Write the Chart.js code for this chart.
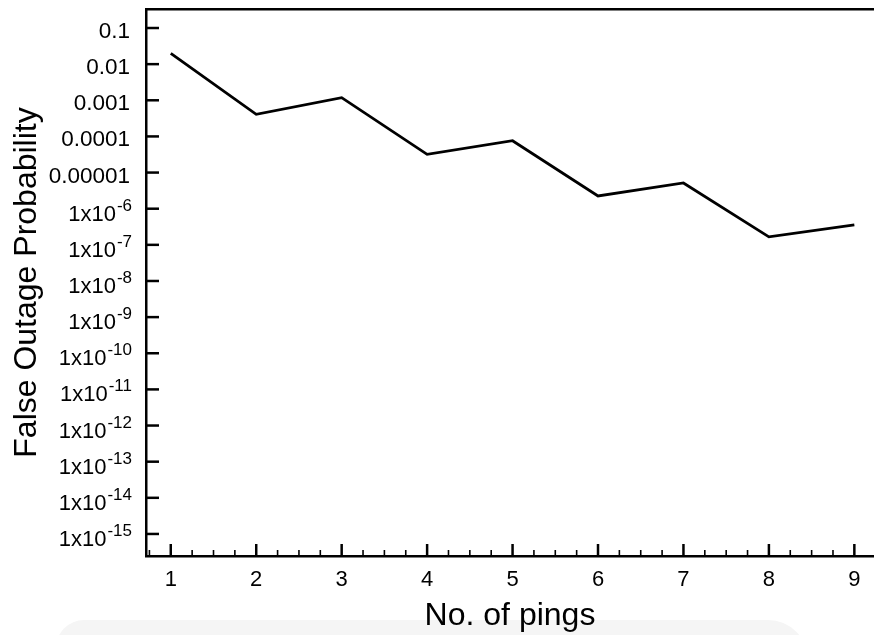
<!DOCTYPE html>
<html>
<head>
<meta charset="utf-8">
<script src="https://cdn.jsdelivr.net/npm/chart.js@4.4.0/dist/chart.umd.min.js"></script>
<style>
  body { margin: 0; background: #fff; overflow: hidden; }
  #wrap { position: relative; width: 874px; height: 635px; }
  #shade { position: absolute; left: 56px; top: 620px; width: 752px; height: 40px;
           background: #f5f5f5; border-radius: 28px 40px 0 0; }
  #chart { position: absolute; left: 0; top: 0; }
</style>
</head>
<body>
<div id="wrap">
  <div id="shade"></div>
  <canvas id="chart" width="874" height="635"></canvas>
</div>
<script>
// number of pings
var pings = [1, 2, 3, 4, 5, 6, 7, 8, 9];
// false outage probability
var probability = [0.020, 4.1e-4, 1.18e-3, 3.2e-5, 7.6e-5, 2.25e-6, 5.15e-6, 1.66e-7, 3.55e-7];
// y tick values (powers of ten) and their labels: plain text or base + exponent
var yTickExp = [-1, -2, -3, -4, -5, -6, -7, -8, -9, -10, -11, -12, -13, -14, -15];
var yTickBase = ["0.1", "0.01", "0.001", "0.0001", "0.00001",
    "1x10", "1x10", "1x10", "1x10", "1x10", "1x10", "1x10", "1x10", "1x10", "1x10"];
var yTickSup = ["", "", "", "", "",
    "-6", "-7", "-8", "-9", "-10", "-11", "-12", "-13", "-14", "-15"];

var FONT = "'Liberation Sans', Arial, Helvetica, sans-serif";

// inward tick marks and superscript y labels like the original plot
var axisDecor = {
    id: 'axisDecor',
    afterDraw: function (chart) {
        var ctx = chart.ctx;
        var xs = chart.scales.x, ys = chart.scales.y;
        var area = chart.chartArea;
        ctx.save();
        ctx.strokeStyle = '#000';
        ctx.fillStyle = '#000';
        ctx.lineWidth = 2.5;
        yTickExp.forEach(function (e, i) {
            var py = ys.getPixelForValue(Math.pow(10, e));
            ctx.beginPath();
            ctx.moveTo(area.left, py);
            ctx.lineTo(area.left + 13, py);
            ctx.stroke();

            ctx.textAlign = 'right';
            ctx.textBaseline = 'alphabetic';
            if (yTickSup[i]) {
                ctx.font = '17px ' + FONT;
                var supW = ctx.measureText(yTickSup[i]).width;
                ctx.fillText(yTickSup[i], 132, py + 2);
                ctx.font = '22px ' + FONT;
                ctx.fillText(yTickBase[i], 132 - supW - 1, py + 12);
            } else {
                ctx.font = '22.5px ' + FONT;
                ctx.fillText(yTickBase[i], 130, py + 10);
            }
        });
        for (var v = 0.75; v <= 9.2; v += 0.25) {
            var px = xs.getPixelForValue(v);
            var major = Math.abs(v - Math.round(v)) < 1e-6;
            ctx.lineWidth = major ? 2.5 : 1.6;
            ctx.beginPath();
            ctx.moveTo(px, area.bottom);
            ctx.lineTo(px, area.bottom - (major ? 12 : 6));
            ctx.stroke();
        }
        ctx.restore();
    }
};

var ctx = document.getElementById('chart').getContext('2d');
var chart = new Chart(ctx, {
    type: 'line',
    data: {
        datasets: [{
            data: pings.map(function (p, i) { return { x: p, y: probability[i] }; }),
            borderColor: '#000',
            borderWidth: 2.8,
            pointRadius: 0,
            tension: 0,
            fill: false
        }]
    },
    options: {
        responsive: false,
        animation: false,
        layout: { padding: { top: 9, right: 0, bottom: 0, left: 0 } },
        plugins: { legend: { display: false }, tooltip: { enabled: false } },
        scales: {
            x: {
                type: 'linear',
                position: 'bottom',
                min: 0.71,
                max: 9.23,
                afterBuildTicks: function (scale) {
                    scale.ticks = pings.map(function (p) { return { value: p }; });
                },
                afterFit: function (scale) { scale.height = 79; },
                ticks: {
                    color: '#000',
                    padding: 11,
                    maxRotation: 0,
                    font: { family: FONT, size: 22 },
                    callback: function (v) { return String(v); }
                },
                grid: { display: false, drawTicks: false },
                border: { display: true, color: '#000', width: 2.5 },
                title: {
                    display: true,
                    text: 'No. of pings',
                    color: '#000',
                    font: { family: FONT, size: 32 },
                    padding: { top: 0, bottom: 0 }
                }
            },
            x2: {
                type: 'linear',
                position: 'top',
                min: 0.71,
                max: 9.23,
                afterFit: function (scale) { scale.height = 0; },
                ticks: { display: false },
                grid: { display: false, drawTicks: false },
                border: { display: true, color: '#000', width: 2.5 }
            },
            y: {
                type: 'logarithmic',
                position: 'left',
                min: Math.pow(10, -15.61),
                max: Math.pow(10, -0.474),
                afterBuildTicks: function (scale) {
                    scale.ticks = yTickExp.map(function (e) { return { value: Math.pow(10, e) }; });
                },
                afterFit: function (scale) { scale.width = 146; },
                ticks: { display: false },
                grid: { display: false, drawTicks: false },
                border: { display: true, color: '#000', width: 2.5 },
                title: {
                    display: true,
                    text: 'False Outage Probability',
                    color: '#000',
                    font: { family: FONT, size: 32 },
                    padding: { top: 8, bottom: 0 }
                }
            }
        }
    },
    plugins: [axisDecor]
});
</script>
</body>
</html>
